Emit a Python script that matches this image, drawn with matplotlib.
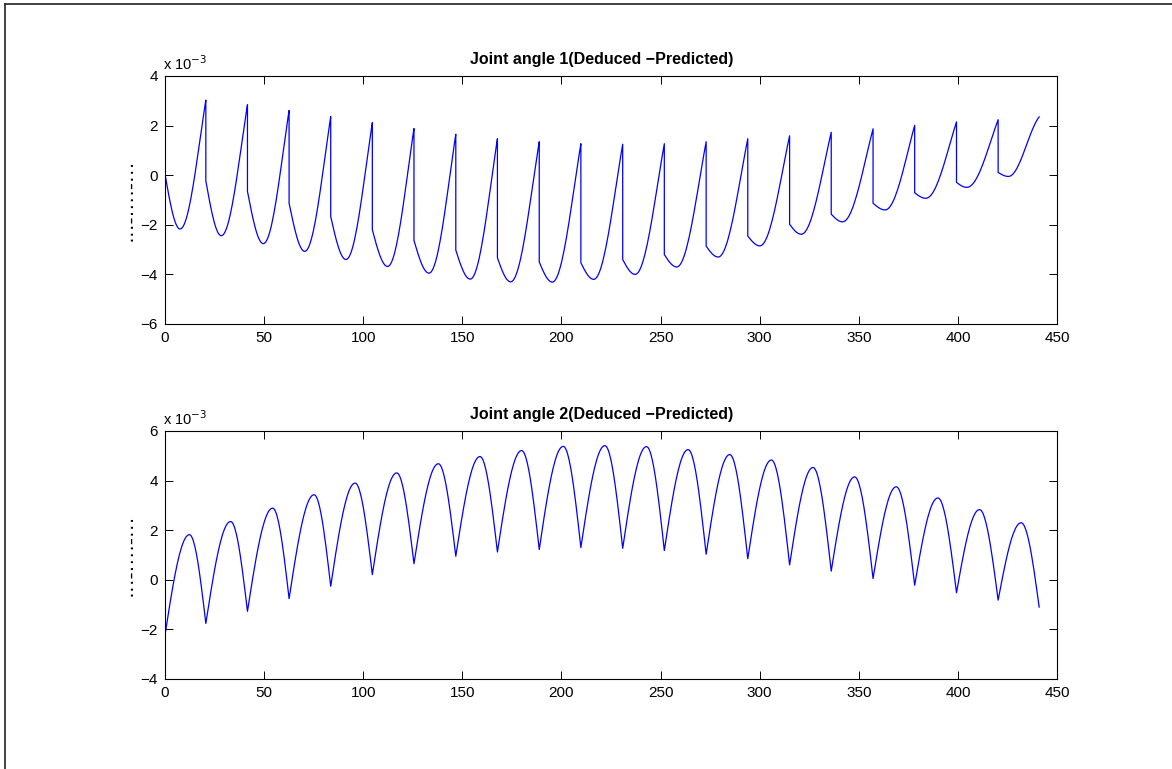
import numpy as np
import matplotlib
matplotlib.use("Agg")
from matplotlib import pyplot as plt
from matplotlib.lines import Line2D

plt.rcParams["font.family"] = ["Liberation Sans", "DejaVu Sans"]

# values in units of 1e-3
jump_x = [20.6, 41.6, 62.6, 83.6, 104.6, 125.6, 146.7, 167.7, 188.8, 209.8,
          230.9, 251.9, 273.0, 294.0, 315.1, 336.1, 357.2, 378.2, 399.3, 420.3]

# joint angle 1: peak just before each jump, value right after jump, troughs
j1_start = (0.0, 0.04)
j1_end = (441.0, 2.35)
j1_peak = [3.03, 2.84, 2.61, 2.36, 2.12, 1.88, 1.65, 1.47, 1.35, 1.27,
           1.25, 1.27, 1.35, 1.47, 1.59, 1.73, 1.87, 2.01, 2.15, 2.24]
j1_after = [-0.23, -0.65, -1.13, -1.67, -2.2, -2.63, -3.02, -3.33, -3.5, -3.53,
            -3.4, -3.2, -2.86, -2.45, -1.98, -1.57, -1.13, -0.71, -0.29, 0.11]
j1_trough_x = [7.6, 28.4, 49.6, 70.5, 91.3, 112.3, 133.2, 154.0, 174.4, 195.4, 216.3,
               237.2, 258.2, 279.1, 300.1, 321.0, 341.8, 363.3, 383.8, 404.5, 425.5]
j1_trough = [-2.17, -2.44, -2.76, -3.07, -3.4, -3.68, -3.95, -4.19, -4.3, -4.31, -4.2,
             -4.0, -3.7, -3.3, -2.85, -2.38, -1.88, -1.4, -0.93, -0.49, -0.05]

# joint angle 2: rounded peaks, sharp troughs at the jump positions
j2_start = (0.0, -2.23)
j2_end = (441.0, -1.1)
j2_peak_x = [12.3, 33.1, 54.3, 75.2, 95.9, 116.9, 137.9, 158.9, 179.9, 200.9, 221.9,
             242.9, 263.9, 284.9, 305.9, 326.9, 347.9, 368.9, 389.9, 410.9, 431.9]
j2_peak = [1.82, 2.35, 2.89, 3.43, 3.9, 4.31, 4.68, 4.97, 5.21, 5.38, 5.41,
           5.37, 5.25, 5.05, 4.83, 4.53, 4.15, 3.75, 3.3, 2.83, 2.3]
j2_trough = [-1.76, -1.27, -0.76, -0.26, 0.21, 0.65, 0.95, 1.12, 1.22, 1.3,
             1.27, 1.18, 1.03, 0.85, 0.6, 0.35, 0.05, -0.22, -0.52, -0.82]

x_ticks = [0, 50, 100, 150, 200, 250, 300, 350, 400, 450]
y1_ticks = [-6, -4, -2, 0, 2, 4]
y2_ticks = [-4, -2, 0, 2, 4, 6]


def seg(x0, y0, x1, y1, kind, phi=0.65 * np.pi):
    u = np.linspace(0, 1, 25)
    if kind == "rise":  # rounded start, steep end
        s = (1 - np.cos(phi * u)) / (1 - np.cos(phi))
    elif kind == "settle":  # steep start, rounded end
        s = np.sin(np.pi / 2 * u)
    else:  # "fall": rounded start, steep end
        s = 1 - np.cos(np.pi / 2 * u)
    return list(x0 + (x1 - x0) * u), list(y0 + (y1 - y0) * s)


def joint1():
    xs, ys = [], []
    a, b = seg(j1_start[0], j1_start[1], j1_trough_x[0], j1_trough[0], "settle")
    xs += a; ys += b
    for k in range(len(jump_x)):
        a, b = seg(j1_trough_x[k], j1_trough[k], jump_x[k], j1_peak[k], "rise")
        xs += a; ys += b
        a, b = seg(jump_x[k], j1_after[k], j1_trough_x[k + 1], j1_trough[k + 1], "settle")
        xs += a; ys += b
    a, b = seg(j1_trough_x[-1], j1_trough[-1], j1_end[0], j1_end[1], "rise", 0.85 * np.pi)
    xs += a; ys += b
    return xs, ys


def joint2():
    xs, ys = [], []
    lows_x = [j2_start[0]] + jump_x + [j2_end[0]]
    lows = [j2_start[1]] + j2_trough + [j2_end[1]]
    for k in range(len(j2_peak_x)):
        a, b = seg(lows_x[k], lows[k], j2_peak_x[k], j2_peak[k], "settle")
        xs += a; ys += b
        a, b = seg(j2_peak_x[k], j2_peak[k], lows_x[k + 1], lows[k + 1], "fall")
        xs += a; ys += b
    return xs, ys


fig = plt.figure(figsize=(11.72, 7.69), dpi=100)
W, H = 1172, 769
ax1 = fig.add_axes([165 / W, 1 - 324 / H, 892 / W, 248 / H])
ax2 = fig.add_axes([165 / W, 1 - 679 / H, 892 / W, 248 / H])

panels = [
    (ax1, joint1(), y1_ticks, "Joint angle 1(Deduced \u2212Predicted)"),
    (ax2, joint2(), y2_ticks, "Joint angle 2(Deduced \u2212Predicted)"),
]
for ax, (xs, ys), yt, title in panels:
    ax.plot(xs, ys, color="#0000ff", lw=0.9)
    ax.set_xlim(0, 450)
    ax.set_ylim(yt[0], yt[-1])
    ax.set_xticks(x_ticks)
    ax.set_yticks(yt)
    ax.tick_params(direction="in", top=True, right=True, length=5.5, width=0.7,
                   labelsize=11, pad=5)
    for sp in ax.spines.values():
        sp.set_linewidth(0.8)
    ax.text(0.49, 1.035, title, transform=ax.transAxes, fontsize=11.5,
            fontweight="bold", ha="center", va="bottom")
    ax.text(-0.002, 1.012, r"x 10$^{-3}$", transform=ax.transAxes, fontsize=10.5,
            ha="left", va="bottom")
    ax.text(-0.039, 0.5, "\u00b7\u00b7\u00b7-\u00b7\u00b7\u00b7\u00b7-\u00b7\u00b7\u00b7",
            transform=ax.transAxes, rotation=90, fontsize=15,
            ha="center", va="center")

# outer frame remnants (top and left edges)
fig.add_artist(Line2D([5 / W, 1], [1 - 4 / H, 1 - 4 / H], color="#222222", lw=1.2))
fig.add_artist(Line2D([5 / W, 5 / W], [0, 1 - 4 / H], color="#222222", lw=1.2))

fig.savefig("out.png", dpi=100)
